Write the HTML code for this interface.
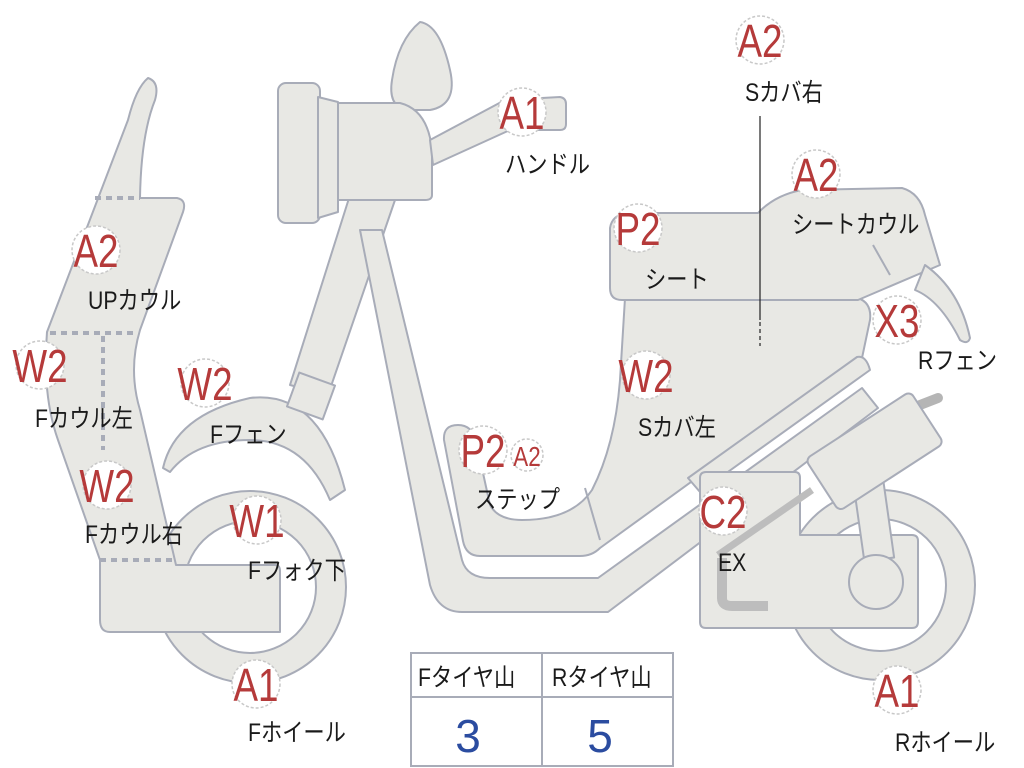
<!DOCTYPE html>
<html><head><meta charset="utf-8"><style>
html,body{margin:0;padding:0;background:#fff;}
svg{display:block;}
.s{fill:#e8e8e4;stroke:#a8acb8;stroke-width:2;stroke-linejoin:round;}
.c{fill:#fff;stroke:#c8c8c8;stroke-width:1.5;stroke-dasharray:3 2;}
.r{fill:#b53a3a;font-family:"Liberation Sans","Noto Sans CJK JP",sans-serif;font-size:46px;text-anchor:middle;transform-box:fill-box;transform-origin:center;transform:scaleX(.8);}
.t text{fill:#1a1a1a;font-family:"Liberation Sans","Noto Sans CJK JP",sans-serif;font-size:25px;transform-box:fill-box;transform-origin:left center;transform:scaleX(.85);}
.tt{fill:#1a1a1a;font-family:"Liberation Sans","Noto Sans CJK JP",sans-serif;font-size:25px;transform-box:fill-box;transform-origin:left center;transform:scaleX(.85);}
</style></head><body>
<svg width="1024" height="768" viewBox="0 0 1024 768" xmlns="http://www.w3.org/2000/svg">
<path class="s" d="M420,22 Q440,25 450,70 Q458,105 430,110 L405,110 Q388,105 392,80 Q398,40 420,22 Z"/>
<path class="s" d="M350,195 L395,200 L328,395 L290,385 Z"/>
<path class="s" d="M360,230 L382,230 L462,560 Q467,578 490,578 L598,578 L862,388 L878,408 L608,612 L462,612 Q438,612 430,585 Z"/>
<circle cx="250" cy="587" r="96" class="s"/>
<circle cx="250" cy="587" r="66" fill="#fff" stroke="#a8acb8" stroke-width="2"/>
<path class="s" d="M163,468 Q175,415 250,398 Q320,390 345,490 L330,500 Q305,440 250,440 Q195,440 170,472 Z"/>
<rect x="292" y="378" width="38" height="36" class="s" transform="rotate(20 311 396)"/>
<path class="s" d="M148,78 Q160,82 155,100 Q141,135 140,198 L177,198 Q187,200 183,212 L140,330 Q128,370 140,410 L176,565 L275,565 Q280,565 280,571 L280,632 L110,632 Q100,632 100,620 L100,560 L58,440 Q42,395 47,332 L128,120 Q136,88 148,78 Z"/>
<g stroke="#a8acb8" stroke-width="4" stroke-dasharray="6 5" fill="none">
<path d="M95,198 H140"/><path d="M50,333 H138"/><path d="M103,336 V450"/><path d="M100,560 H172"/>
</g>
<rect x="278" y="83" width="42" height="140" rx="8" class="s"/>
<path class="s" d="M318,97 L338,102 L338,212 L318,218 Z"/>
<path class="s" d="M338,103 L400,103 Q428,110 432,150 L432,195 Q432,200 425,200 L338,200 Z"/>
<path class="s" d="M430,140 L505,100 L560,97 Q566,98 566,104 L566,124 Q566,130 560,130 L510,130 L433,165 Z"/>
<path class="s" d="M625,298 L858,298 Q872,303 870,320 L862,358 L600,548 Q592,556 580,556 L480,556 Q466,556 463,541 L444,440 Q443,425 458,425 Q472,425 476,441 L490,505 Q498,520 522,520 Q572,520 592,490 Q615,445 620,380 Z"/>
<path d="M585,488 L600,540" stroke="#a8acb8" stroke-width="2"/>
<path class="s" d="M610,228 Q612,215 627,213 L758,213 Q775,195 802,190 L902,188 Q920,193 925,215 L940,265 L858,300 L622,300 Q610,300 610,288 Z"/>
<path class="s" d="M925,265 Q960,290 970,338 Q968,345 960,340 Q940,300 915,290 Z"/>
<path d="M873,245 L890,275" stroke="#a8acb8" stroke-width="2"/>
<path class="s" d="M857,357 Q866,355 870,370 L700,492 L688,478 Z"/>
<circle cx="880" cy="585" r="95" class="s"/>
<circle cx="880" cy="585" r="66" fill="#fff" stroke="#a8acb8" stroke-width="2"/>
<path class="s" d="M700,478 Q700,472 706,472 L795,472 Q800,472 800,478 L800,535 L912,535 Q918,535 918,541 L918,622 Q918,628 912,628 L706,628 Q700,628 700,622 Z"/>
<rect x="858" y="470" width="30" height="90" class="s" transform="rotate(-8 873 515)"/>
<circle cx="876" cy="582" r="27" class="s"/>
<path d="M718,555 L812,490" stroke="#bdbdbd" stroke-width="7"/>
<path d="M722,558 L722,598 Q722,606 732,606 L768,606" stroke="#bdbdbd" stroke-width="10" fill="none"/>
<path d="M920,405 L938,398" stroke="#b5b5b5" stroke-width="10" stroke-linecap="round"/>
<rect x="812" y="420" width="125" height="62" rx="6" class="s" transform="rotate(-33 875 451)"/>
<path d="M760,116 V320" stroke="#222" stroke-width="1.2"/>
<path d="M760,322 V346" stroke="#222" stroke-width="1.2" stroke-dasharray="4 3"/>
<g>
<circle cx="522" cy="112" r="24" class="c"/><text x="522" y="129" class="r">A1</text>
<circle cx="760" cy="40" r="24" class="c"/><text x="760" y="57" class="r">A2</text>
<circle cx="816" cy="174" r="24" class="c"/><text x="816" y="191" class="r">A2</text>
<circle cx="638" cy="228" r="24" class="c"/><text x="638" y="245" class="r">P2</text>
<circle cx="897" cy="320" r="24" class="c"/><text x="897" y="337" class="r">X3</text>
<circle cx="96" cy="250" r="24" class="c"/><text x="96" y="267" class="r">A2</text>
<circle cx="40" cy="365" r="24" class="c"/><text x="40" y="382" class="r">W2</text>
<circle cx="205" cy="383" r="24" class="c"/><text x="205" y="400" class="r">W2</text>
<circle cx="107" cy="485" r="24" class="c"/><text x="107" y="502" class="r">W2</text>
<circle cx="257" cy="520" r="24" class="c"/><text x="257" y="537" class="r">W1</text>
<circle cx="256" cy="684" r="24" class="c"/><text x="256" y="701" class="r">A1</text>
<circle cx="483" cy="450" r="24" class="c"/><text x="483" y="467" class="r">P2</text>
<circle cx="527" cy="455" r="16" class="c"/><text x="527" y="466" class="r" style="font-size:28px">A2</text>
<circle cx="646" cy="375" r="24" class="c"/><text x="646" y="392" class="r">W2</text>
<circle cx="723" cy="511" r="24" class="c"/><text x="723" y="528" class="r">C2</text>
<circle cx="897" cy="690" r="24" class="c"/><text x="897" y="707" class="r">A1</text>
</g>
<g class="t">
<text x="505" y="173">ハンドル</text>
<text x="745" y="101">Sカバ右</text>
<text x="792" y="233">シートカウル</text>
<text x="645" y="288">シート</text>
<text x="918" y="369">Rフェン</text>
<text x="88" y="309">UPカウル</text>
<text x="35" y="427">Fカウル左</text>
<text x="210" y="443">Fフェン</text>
<text x="85" y="543">Fカウル右</text>
<text x="248" y="579">Fフォク下</text>
<text x="248" y="741">Fホイール</text>
<text x="475" y="508">ステップ</text>
<text x="638" y="436">Sカバ左</text>
<text x="718" y="571">EX</text>
<text x="895" y="751">Rホイール</text>
</g>
<rect x="411" y="653" width="262" height="113" fill="#fff" stroke="#a8acb8" stroke-width="2"/>
<path d="M411,697 H673 M542,653 V766" stroke="#a8acb8" stroke-width="2"/>
<text x="418" y="686" class="tt">Fタイヤ山</text>
<text x="552" y="686" class="tt">Rタイヤ山</text>
<text x="468" y="752" style="fill:#2b4ca0;font-family:'Liberation Sans',sans-serif;font-size:46px;text-anchor:middle">3</text>
<text x="600" y="752" style="fill:#2b4ca0;font-family:'Liberation Sans',sans-serif;font-size:46px;text-anchor:middle">5</text>
</svg>
</body></html>
